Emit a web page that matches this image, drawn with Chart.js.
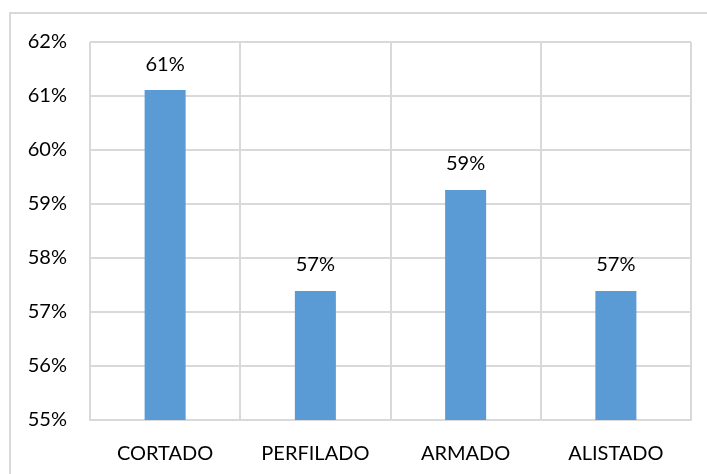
<!DOCTYPE html>
<html>
<head>
<meta charset="utf-8">
<script src="https://cdn.jsdelivr.net/npm/chart.js@4.4.1/dist/chart.umd.min.js"></script>
<style>
  body { margin:0; background:#fff; overflow:hidden; }
  #frame { position:absolute; left:9px; top:12px; width:720px; height:480px; border:2px solid #d9d9d9; }
  #chart { position:absolute; left:0; top:0; }
</style>
</head>
<body>
<div id="frame"></div>
<canvas id="chart" width="707" height="474"></canvas>
<script>
// categories and values (percent)
let categories = ['CORTADO', 'PERFILADO', 'ARMADO', 'ALISTADO'] ;
let values = [61.11, 57.39, 59.26, 57.39] ;
let valueLabels = ['61%', '57%', '59%', '57%'] ;
let yMin = 55, yMax = 62 ;

const fontFam = 'Lato, Carlito, "Liberation Sans", sans-serif' ;
const fontSize = 20 ;

// draws the % label above each bar
const barLabels = {
    id: 'barLabels',
    afterDatasetsDraw (chart) {
        let ctx = chart.ctx ;
        let meta = chart.getDatasetMeta(0) ;
        ctx.save() ;
        ctx.font = fontSize + 'px ' + fontFam ;
        ctx.fillStyle = '#000' ;
        ctx.textAlign = 'center' ;
        ctx.textBaseline = 'middle' ;
        meta.data.forEach((bar, i) => {
            ctx.fillText(valueLabels[i], bar.x, bar.y - 26) ;
        }) ;
        ctx.restore() ;
    }
} ;

let ctx = document.getElementById('chart').getContext('2d') ;
let myChart = new Chart(ctx, {
    type: 'bar',
    data: {
        labels: categories,
        datasets: [{
            data: values,
            backgroundColor: '#5b9bd5',
            barPercentage: 0.273,
            categoryPercentage: 1.0,
        }]
    },
    options: {
        responsive: false,
        animation: false,
        devicePixelRatio: 1,
        layout: { padding: { top: 42, right: 16, left: 0, bottom: 0 } },
        plugins: { legend: { display: false }, tooltip: { enabled: false } },
        scales: {
            x: {
                grid: { color: '#d9d9d9', lineWidth: 2, drawTicks: false, offset: true },
                border: { color: '#d9d9d9', width: 2 },
                ticks: { color: '#000', font: { family: fontFam, size: fontSize }, padding: 22, maxRotation: 0 },
                afterFit: function (scale) { scale.height = 54 ; }
            },
            y: {
                min: yMin,
                max: yMax,
                grid: { color: '#d9d9d9', lineWidth: 2, drawTicks: false },
                border: { display: false },
                ticks: {
                    stepSize: 1,
                    color: '#000',
                    font: { family: fontFam, size: fontSize },
                    padding: 23,
                    callback: function (v) { return v + '%' ; }
                },
                afterFit: function (scale) { scale.width = 90 ; }
            }
        }
    },
    plugins: [barLabels]
}) ;
</script>
</body>
</html>
